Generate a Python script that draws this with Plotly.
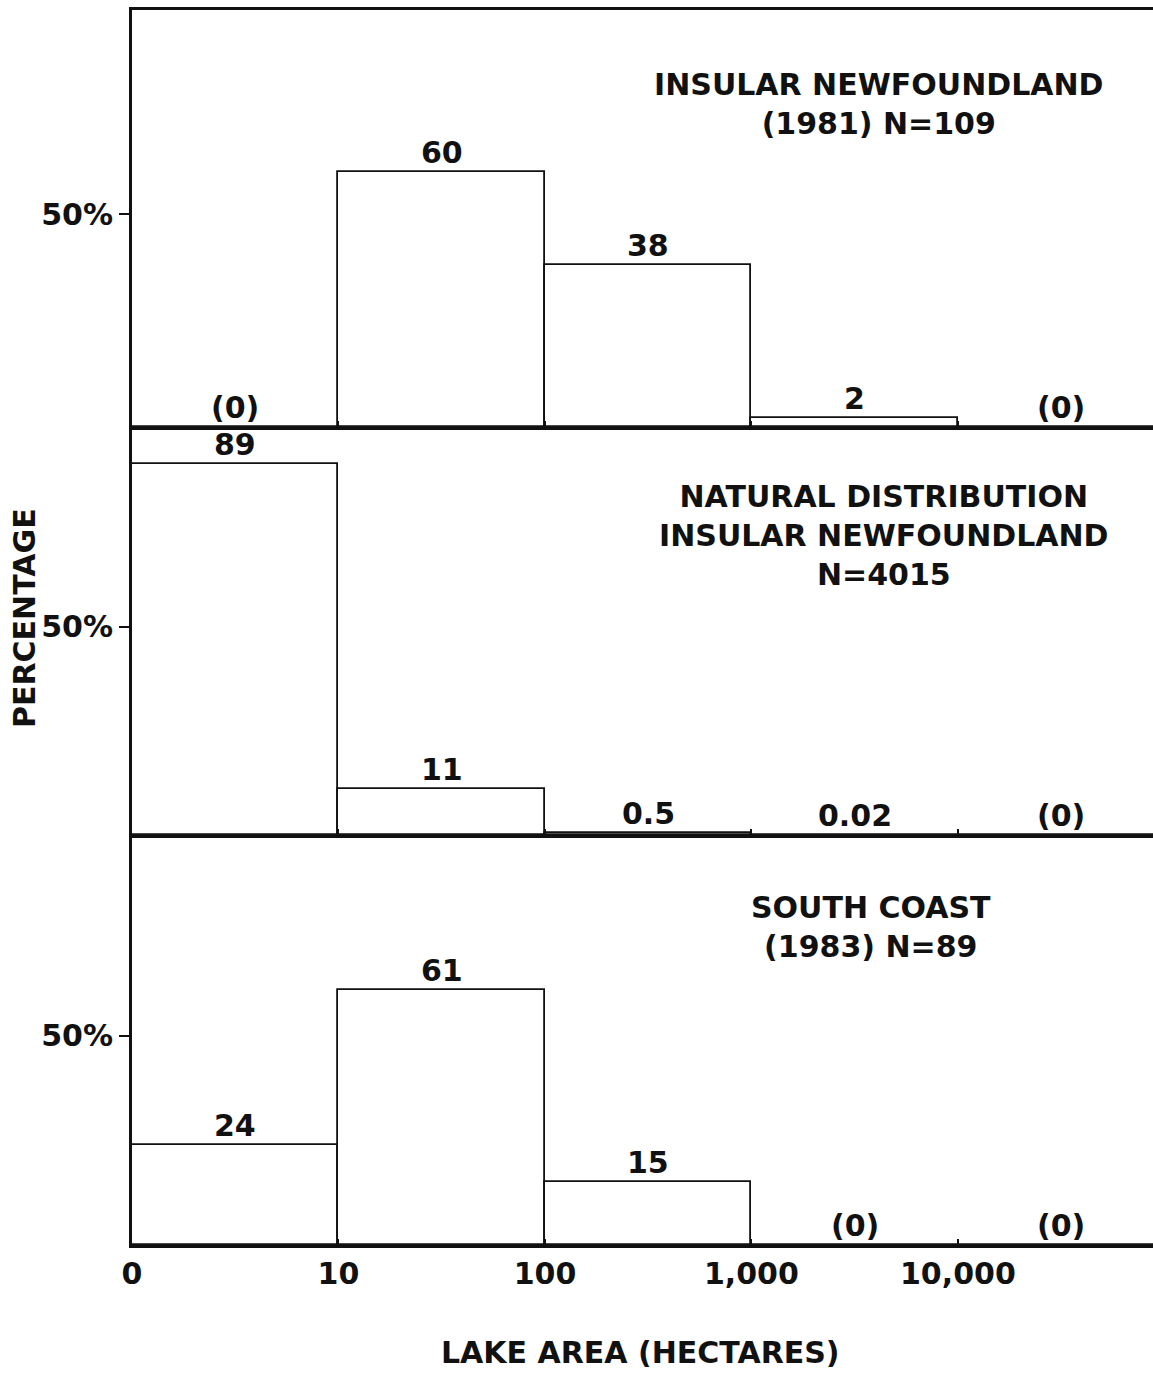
import plotly.graph_objects as go

# ---- data ----
bin_edges_labels = ["0", "10", "100", "1,000", "10,000"]
bin_positions = [0.5, 1.5, 2.5, 3.5, 4.5]   # bins between the edge ticks
edge_positions = [0, 1, 2, 3, 4]

panel1_title = "INSULAR NEWFOUNDLAND<br>(1981) N=109"
panel1_values = [0, 60, 38, 2, 0]

panel2_title = "NATURAL DISTRIBUTION<br>INSULAR NEWFOUNDLAND<br>N=4015"
panel2_values = [89, 11, 0.5, 0.02, 0]

panel3_title = "SOUTH COAST<br>(1983) N=89"
panel3_values = [24, 61, 15, 0, 0]

y_tick_vals = [50]
y_tick_text = ["50%"]

# ---- layout geometry (pixels) ----
W, H = 1153, 1373
LEFT = 132
FONT = "DejaVu Sans"
INK = "#111111"

def py(p):
    return 1 - p / H

panels = [
    (panel1_values, panel1_title, (427, 10), (3.62, 76)),
    (panel2_values, panel2_title, (835, 427), (3.64, 72)),
    (panel3_values, panel3_title, (1245, 835), (3.58, 76)),
]

fig = go.Figure()
annotations = []
layout_axes = {}

for i, (vals, title, (bot, top), (tx, ty)) in enumerate(panels, start=1):
    xa = "x" if i == 1 else f"x{i}"
    ya = "y" if i == 1 else f"y{i}"
    fig.add_trace(go.Bar(
        x=bin_positions, y=vals, width=1,
        marker=dict(color="white", line=dict(color=INK, width=1.8)),
        xaxis=xa, yaxis=ya, showlegend=False, hoverinfo="skip",
    ))
    for xv, v in zip(bin_positions, vals):
        label = "(0)" if v == 0 else f"{v:g}"
        annotations.append(dict(
            x=xv, y=v, xref=xa, yref=ya, text=label, showarrow=False,
            xanchor="center", yanchor="bottom", yshift=0,
            font=dict(family=FONT, size=30, color=INK, weight="bold"),
        ))
    annotations.append(dict(
        x=tx, y=ty, xref=xa, yref=ya, text=title, showarrow=False,
        xanchor="center", yanchor="middle", align="center",
        font=dict(family=FONT, size=30, color=INK, weight="bold"),
    ))
    xkey = "xaxis" if i == 1 else f"xaxis{i}"
    ykey = "yaxis" if i == 1 else f"yaxis{i}"
    layout_axes[xkey] = dict(
        domain=[LEFT / W, 1], range=[0, 4.945], anchor=ya,
        showline=True, linewidth=3, linecolor=INK, mirror=(i == 1),
        tickvals=edge_positions, ticktext=bin_edges_labels,
        showticklabels=(i == 3), ticks="inside", ticklen=6, tickwidth=2,
        tickcolor=INK, showgrid=False, zeroline=False, automargin=False,
        tickfont=dict(family=FONT, size=30, color=INK, weight="bold"),
        fixedrange=True,
    )
    layout_axes[ykey] = dict(
        domain=[py(bot), py(top)], range=[0, 98], anchor=xa,
        showline=True, linewidth=3, linecolor=INK,
        tickvals=y_tick_vals, ticktext=y_tick_text,
        ticks="outside", ticklen=10, tickwidth=2, tickcolor=INK,
        showgrid=False, zeroline=False, automargin=False,
        tickfont=dict(family=FONT, size=30, color=INK, weight="bold"),
        fixedrange=True,
    )

annotations.append(dict(
    x=25 / W, y=py(618), xref="paper", yref="paper", text="PERCENTAGE",
    showarrow=False, textangle=-90, xanchor="center", yanchor="middle",
    font=dict(family=FONT, size=30, color=INK, weight="bold"),
))
annotations.append(dict(
    x=640 / W, y=py(1352), xref="paper", yref="paper", text="LAKE AREA (HECTARES)",
    showarrow=False, xanchor="center", yanchor="middle",
    font=dict(family=FONT, size=30, color=INK, weight="bold"),
))

fig.update_layout(
    width=W, height=H,
    margin=dict(l=0, r=0, t=0, b=0, pad=0),
    paper_bgcolor="white", plot_bgcolor="white",
    font=dict(family=FONT, size=30, color=INK, weight="bold"),
    bargap=0,
    annotations=annotations,
    **layout_axes,
)

fig.write_html("out.html")
